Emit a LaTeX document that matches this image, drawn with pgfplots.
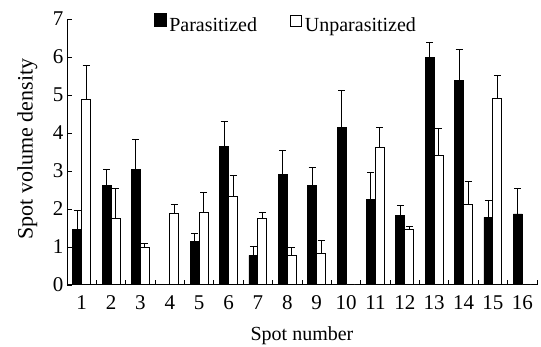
\documentclass[border=0pt]{standalone}
\usepackage{fontspec}
\setmainfont{Liberation Serif}
\usepackage{pgfplots}
\usepackage{pgfplotstable}
\pgfplotsset{compat=1.18}
\pgfplotstableread{
x p pe u ue
1 1.45 0.51 4.89 0.88
2 2.63 0.41 1.75 0.80
3 3.03 0.81 0.99 0.09
4 0.00 0.00 1.87 0.24
5 1.14 0.22 1.90 0.54
6 3.64 0.65 2.32 0.56
7 0.78 0.23 1.75 0.15
8 2.90 0.63 0.77 0.21
9 2.63 0.47 0.82 0.36
10 4.15 0.96 0.00 0.00
11 2.24 0.72 3.63 0.51
12 1.84 0.24 1.45 0.08
13 5.98 0.41 3.42 0.69
14 5.39 0.81 2.12 0.60
15 1.78 0.45 4.90 0.60
16 1.87 0.66 0.00 0.00
}\data
\begin{document}
\begin{tikzpicture}
\path[use as bounding box] (0,0) rectangle (541pt,347pt);
\begin{axis}[
  at={(67pt,62pt)}, anchor=south west,
  scale only axis, width=470pt, height=266pt,
  xmin=0.5, xmax=16.5, ymin=0, ymax=7,
  axis x line*=bottom, axis y line*=left,
  axis line style={line width=1pt,-},
  xtick={1,...,16}, ytick={0,...,7},
  minor xtick={1.5,2.5,...,16.5},
  major x tick style={draw=none},
  tick align=inside,
  major tick length=5pt, minor tick length=5pt,
  tick style={line width=0.8pt, black},
  /pgf/number format/assume math mode=true,
  every tick label/.append style={font=\fontsize{21}{24}\selectfont},
  xticklabel style={yshift=-7pt},
  xlabel={Spot number}, ylabel={Spot volume density},
  xlabel style={font=\fontsize{20}{24}\selectfont, at={(axis description cs:0.5,-0.2086)}, anchor=base},
  ylabel style={font=\fontsize{22}{26}\selectfont, at={(axis description cs:-0.073,0.511)}, anchor=base, rotate=0},
  legend columns=2,
  legend style={draw=none, fill=none, font=\fontsize{20}{24}\selectfont,
    at={(axis description cs:0.178,0.98)}, anchor=west,
    /tikz/column 2/.style={column sep=30pt},
    nodes={inner xsep=3pt}},
]
\addlegendimage{legend image code/.code={\fill[black] (0pt,-1pt) rectangle (12pt,12pt);}}
\addlegendimage{legend image code/.code={\filldraw[fill=white, draw=black, line width=0.9pt] (0pt,-1pt) rectangle (11pt,10pt);}}
\addplot[ybar, bar width=9pt, bar shift=0pt, fill=black, draw=black, line width=0.8pt, forget plot,
  error bars/.cd, y dir=plus, y explicit,
  error bar style={line width=1pt, black},
  error mark options={rotate=90, mark size=3.5pt, line width=1pt, black}]
  table[x expr=\thisrow{x}-0.1532, y=p, y error=pe] {\data};
\addplot[ybar, bar width=9pt, bar shift=0pt, fill=white, draw=black, line width=1pt, forget plot,
  error bars/.cd, y dir=plus, y explicit,
  error bar style={line width=1pt, black},
  error mark options={rotate=90, mark size=3.5pt, line width=1pt, black}]
  table[x expr=\thisrow{x}+0.1532, y=u, y error=ue] {\data};
\legend{Parasitized, Unparasitized}
\end{axis}
\end{tikzpicture}
\end{document}
